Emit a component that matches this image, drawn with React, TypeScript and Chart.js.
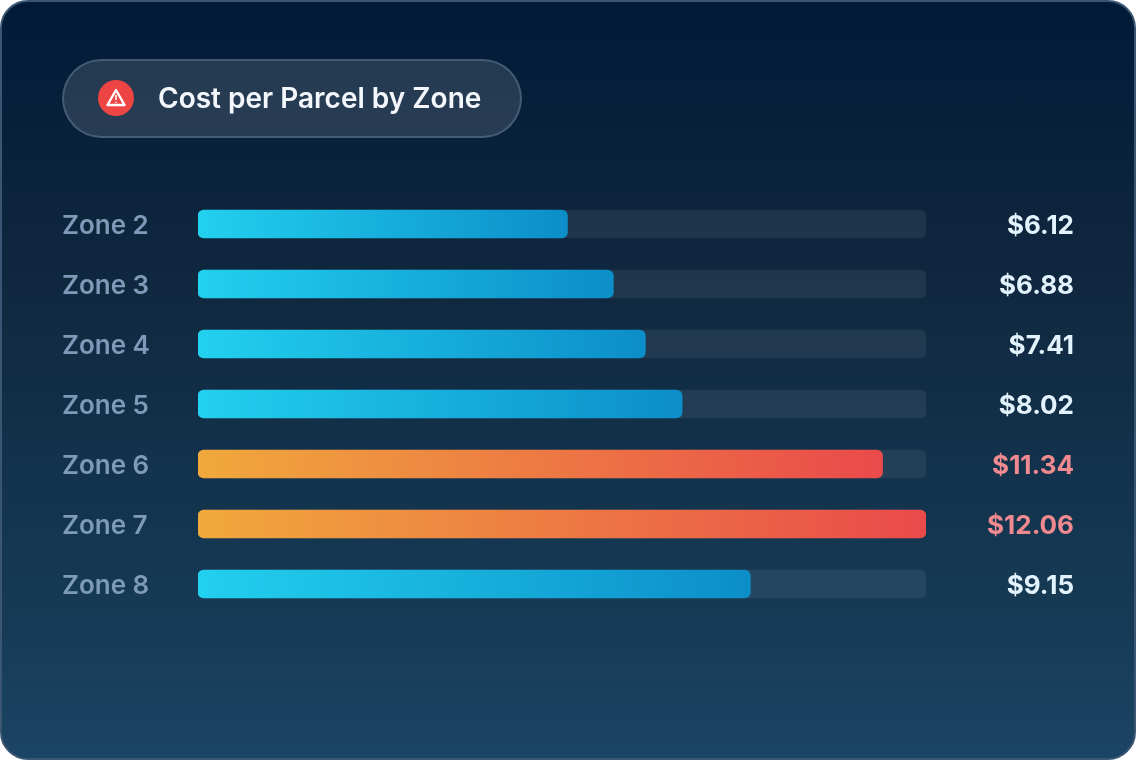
import { useEffect, useRef } from "react"
import { Chart, registerables } from "chart.js"

Chart.register(...registerables)

const zones = ["Zone 2", "Zone 3", "Zone 4", "Zone 5", "Zone 6", "Zone 7", "Zone 8"]
const costs = [6.12, 6.88, 7.41, 8.02, 11.34, 12.06, 9.15]
const flagged = [false, false, false, false, true, true, false]
const axisMax = 12.06
const trackValues = [12.06, 12.06, 12.06, 12.06, 12.06, 12.06, 12.06]

const costLabels = costs.map((c) => "$" + c.toFixed(2))

export default function App() {
  const chartRef = useRef<HTMLCanvasElement>(null)

  useEffect(() => {
    document.body.style.margin = "0"
    document.body.style.background = "#ffffff"
    if (!chartRef.current) return

    const chart = new Chart(chartRef.current, {
      type: "bar",
      data: {
        labels: zones,
        datasets: [
          {
            data: costs,
            order: 1,
            backgroundColor: (ctx: any) => {
              const c = ctx.chart
              if (!c.chartArea || ctx.dataIndex === undefined) return "#22d3ee"
              const x0 = c.scales.x.getPixelForValue(0)
              const x1 = c.scales.x.getPixelForValue(costs[ctx.dataIndex])
              const g = c.ctx.createLinearGradient(x0, 0, x1, 0)
              if (flagged[ctx.dataIndex]) {
                g.addColorStop(0, "#f0a93c")
                g.addColorStop(1, "#ea4a4b")
              } else {
                g.addColorStop(0, "#22d0ef")
                g.addColorStop(1, "#0c8ec8")
              }
              return g
            },
            borderRadius: 6,
            borderSkipped: false,
            barThickness: 28,
          },
          {
            data: trackValues,
            order: 2,
            backgroundColor: "rgba(255, 255, 255, 0.07)",
            borderRadius: 6,
            borderSkipped: false,
            barThickness: 28,
          },
        ],
      },
      options: {
        indexAxis: "y",
        responsive: false,
        animation: false,
        events: [],
        layout: { padding: { left: 62, right: 62, top: 194, bottom: 146 } },
        datasets: { bar: { grouped: false } },
        plugins: { legend: { display: false }, tooltip: { enabled: false } },
        scales: {
          x: { display: false, min: 0, max: axisMax },
          y: {
            position: "left",
            grid: { display: false },
            border: { display: false },
            afterFit: (scale: any) => {
              scale.width = 136
            },
            ticks: {
              crossAlign: "far",
              padding: 0,
              labelOffset: 2,
              color: "#7e9ab8",
              font: { family: "Inter", size: 26, weight: 600 },
            },
          },
          yRight: {
            type: "category",
            position: "right",
            labels: costLabels,
            grid: { display: false },
            border: { display: false },
            afterFit: (scale: any) => {
              scale.width = 148
            },
            ticks: {
              crossAlign: "far",
              padding: 0,
              labelOffset: 2,
              color: (ctx: any) => (flagged[ctx.index] ? "#f08a90" : "#e3f3fd"),
              font: { family: "Inter", size: 26, weight: 700 },
            },
          },
        },
      },
    } as any)

    return () => {
      chart.destroy()
    }
  }, [])

  return (
    <div
      style={{
        position: "relative",
        width: 1136,
        height: 760,
        boxSizing: "border-box",
        borderRadius: 28,
        border: "2px solid #3a5672",
        background: "linear-gradient(180deg, #011a37 0%, #0f273e 35%, #173c57 85%, #1b4565 100%)",
        overflow: "hidden",
      }}
    >
      <canvas
        ref={chartRef}
        width={1136}
        height={760}
        style={{ position: "absolute", left: -2, top: -2, width: 1136, height: 760 }}
      />
      <div
        style={{
          position: "absolute",
          left: 60,
          top: 57,
          width: 460,
          height: 79,
          boxSizing: "border-box",
          borderRadius: 40,
          border: "2px solid rgba(140, 165, 195, 0.3)",
          background: "rgba(255, 255, 255, 0.13)",
        }}
      >
        <svg width="36" height="36" viewBox="0 0 36 36" style={{ position: "absolute", left: 34, top: 19 }}>
          <circle cx="18" cy="18" r="18" fill="#ee4444" />
          <path d="M18 10 L26.5 25 L9.5 25 Z" fill="none" stroke="#ffffff" strokeWidth="2.4" strokeLinejoin="round" />
          <path d="M18 15 L18 20" stroke="#ffffff" strokeWidth="1.6" />
          <circle cx="18" cy="22.2" r="0.8" fill="#ffffff" />
        </svg>
        <div
          style={{
            position: "absolute",
            left: 94,
            top: 0,
            lineHeight: "75px",
            fontFamily: "Inter",
            fontWeight: 600,
            fontSize: 28,
            color: "#f4f8fc",
            whiteSpace: "nowrap",
          }}
        >
          Cost per Parcel by Zone
        </div>
      </div>
    </div>
  )
}
